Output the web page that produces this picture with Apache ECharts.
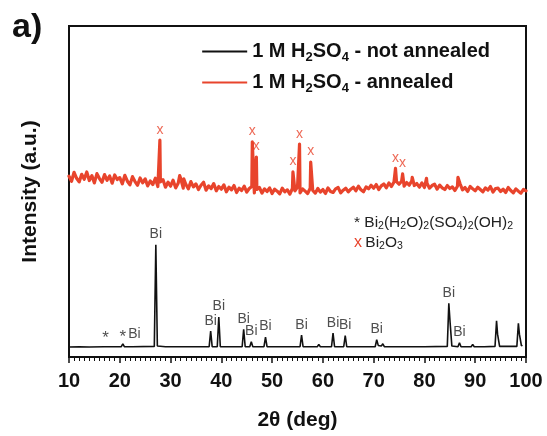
<!DOCTYPE html>
<html>
<head>
<meta charset="utf-8">
<script src="https://cdn.jsdelivr.net/npm/echarts@6/dist/echarts.min.js"></script>
<style>
  html, body { margin: 0; padding: 0; background: #fff; }
  #main { width: 547px; height: 436px; }
</style>
</head>
<body>
<div id="main"></div>
<script>
// black trace (not annealed): 2theta / intensity points
const blackX = [10, 12, 14, 16.9, 17.2, 17.5, 20.3, 20.6, 20.9, 22.1, 22.3, 22.5, 26.8, 27.1, 27.4, 29, 33,
  37.6, 37.9, 38.2, 39.2, 39.5, 39.8, 44.1, 44.4, 44.7, 45.6, 45.9, 46.2, 48.4, 48.7, 49.0,
  55.5, 55.8, 56.1, 58.9, 59.2, 59.5, 61.7, 62.0, 62.3, 64.1, 64.4, 64.7, 67.1, 67.4, 67.7,
  70.3, 70.6, 70.9, 71.5, 71.8, 72.1, 73.4, 73.7, 74.0, 75.0, 75.3, 75.6, 80, 84.5, 84.8, 85.05, 85.15, 85.4,
  86.6, 86.9, 87.2, 89.2, 89.5, 89.8, 91.2, 91.5, 91.8, 93.9, 94.2, 94.4, 94.55, 94.8,
  97.0, 97.3, 97.6, 98.2, 98.5, 98.7, 98.85, 99.1, 99.3]
const blackY = [3.0, 3.1, 3.0, 3.1, 3.7, 3.1, 3.1, 4.0, 3.1, 3.1, 3.6, 3.1, 3.2, 33.9, 3.3, 3.1, 3.1,
  3.1, 7.8, 3.1, 3.1, 12.1, 3.1, 3.1, 8.4, 3.1, 3.1, 4.6, 3.1, 3.1, 6.0, 3.1,
  3.1, 6.6, 3.1, 3.1, 3.8, 3.1, 3.1, 7.2, 3.1, 3.1, 6.5, 3.1, 3.1, 3.6, 3.1,
  3.1, 5.2, 3.5, 3.3, 4.0, 3.1, 3.1, 3.6, 3.1, 3.1, 3.6, 3.1, 3.1, 3.2, 16.2, 10.5, 10.0, 3.3,
  3.1, 4.3, 3.1, 3.1, 3.8, 3.1, 3.1, 3.6, 3.1, 3.2, 10.9, 6.9, 6.5, 3.2,
  3.2, 3.7, 3.2, 3.2, 10.2, 6.9, 6.5, 3.4, 3.6]

// black peak tags
const blackTagPos = [17.2, 20.6, 22.3, 27.1, 37.9, 39.5, 44.4, 45.9, 48.7, 55.8, 62.0, 64.4, 70.6, 84.8, 86.9]
const blackTagText = ['*', '*', 'Bi', 'Bi', 'Bi', 'Bi', 'Bi', 'Bi', 'Bi', 'Bi', 'Bi', 'Bi', 'Bi', 'Bi', 'Bi']

// red trace (annealed): noisy background every 0.5 deg from 10 to 100
const redBase = [
  54.6, 53.1, 55.8, 54.0, 52.9, 55.2, 53.7, 55.9, 53.3, 54.8,
  52.6, 55.4, 53.9, 52.8, 55.1, 53.4, 54.7, 52.5, 55.0, 53.6,
  54.2, 52.3, 54.9, 53.1, 52.0, 54.5, 53.0, 51.9, 54.1, 52.6,
  53.8, 51.7, 53.2, 52.1, 54.0, 51.5, 52.9, 53.6, 51.3, 52.8,
  51.6, 53.4, 51.1, 52.5, 53.9, 51.0, 52.2, 50.8, 53.0, 51.4,
  52.3, 50.6, 51.9, 52.8, 50.4, 51.7, 50.9, 52.4, 50.2, 51.5,
  50.7, 52.0, 49.9, 51.3, 50.5, 51.8, 49.7, 51.0, 50.3, 51.6,
  49.8, 50.9, 51.5, 49.6, 50.6, 51.2, 49.5, 50.8, 50.0, 51.1,
  49.4, 50.7, 50.1, 49.3, 51.0, 49.9, 50.5, 49.2, 50.9, 50.2,
  51.3, 49.6, 50.8, 50.1, 49.4, 51.0, 50.3, 49.5, 50.9, 49.8,
  50.6, 49.4, 51.1, 50.0, 49.7, 50.8, 51.2, 49.6, 50.4, 51.0,
  49.9, 50.7, 51.3, 50.2, 51.6, 50.5, 49.9, 51.4, 50.8, 51.9,
  51.0, 52.1, 50.6, 51.7, 52.3, 51.1, 52.6, 51.5, 52.9, 53.0,
  52.2, 53.1, 51.6, 52.7, 51.9, 53.2, 51.8, 52.4, 51.3, 52.6,
  51.2, 52.5, 51.0, 51.8, 52.2, 50.7, 51.9, 51.1, 50.6, 51.8,
  50.9, 51.4, 50.3, 51.6, 52.4, 50.5, 51.2, 50.0, 51.5, 50.8,
  50.2, 51.3, 50.6, 49.9, 51.1, 50.4, 51.5, 49.8, 50.9, 51.0,
  50.0, 50.7, 49.7, 51.2, 50.3, 49.6, 50.8, 50.1, 49.5, 50.6,
  50.2]
// Bi2O3 peaks (tagged with x)
const redPeakPos = [27.9, 46.1, 46.9, 54.1, 55.4, 57.6, 74.3, 75.7]
const redPeakTop = [65.5, 65.0, 60.4, 55.9, 64.3, 58.9, 57.0, 55.3]
// small untagged spikes
const redMinorPos = [31.8, 32.6, 77.6, 80.4, 86.6]
const redMinorTop = [54.8, 53.8, 54.3, 54.0, 54.3]

const font = 'Liberation Sans, Arial, sans-serif'
const red = '#e8442c'

const blackData = blackX.map((x, i) => [x, blackY[i]])
const redData = redBase.map((v, i) => [10 + i * 0.5, v])
  .concat(redPeakPos.map((p, i) => [p, redPeakTop[i]]))
  .concat(redMinorPos.map((p, i) => [p, redMinorTop[i]]))
  .sort((a, b) => a[0] - b[0])
const blackTags = blackTagPos.map((p, i) => {
  const star = blackTagText[i] === '*'
  return {
    value: [p, blackY[blackX.indexOf(p)]],
    label: {
      formatter: blackTagText[i],
      fontSize: star ? 17 : 14,
      offset: star ? [0, 6] : (p === 22.3 ? [3, 0] : [0, 0])
    }
  }
})
const redTags = redPeakPos.map((p, i) => [p, redPeakTop[i]])

const legendText = {
  'not annealed': '{b|1 M H}{s|2}{b|SO}{s|4}{b| - not annealed}',
  'annealed': '{b|1 M H}{s|2}{b|SO}{s|4}{b| - annealed}'
}

const chart = echarts.init(document.getElementById('main'))

let option = {
  animation: false,
  backgroundColor: '#fff',
  title: {
    text: 'a)',
    left: 7,
    top: 6,
    textStyle: {fontFamily: font, fontSize: 34, fontWeight: 'bold', color: '#111'}
  },
  legend: {
    orient: 'vertical',
    right: 52,
    top: 34,
    icon: 'rect',
    itemWidth: 45,
    itemHeight: 2,
    itemGap: 6,
    data: ['not annealed', 'annealed'],
    formatter: (name) => legendText[name],
    textStyle: {
      rich: {
        b: {fontFamily: font, fontSize: 20, fontWeight: 'bold', color: '#111', lineHeight: 23},
        s: {fontFamily: font, fontSize: 13, fontWeight: 'bold', color: '#111', lineHeight: 23, padding: [12, 0, 0, 0]}
      }
    }
  },
  graphic: [
    {
      type: 'text',
      left: 354,
      top: 213,
      style: {
        text: '{n|* Bi}{s|2}{n|(H}{s|2}{n|O)}{s|2}{n|(SO}{s|4}{n|)}{s|2}{n|(OH)}{s|2}',
        rich: {
          n: {fontFamily: font, fontSize: 15.5, fill: '#222', lineHeight: 18},
          s: {fontFamily: font, fontSize: 10.5, fill: '#222', lineHeight: 18, padding: [8, 0, 0, 0]}
        }
      }
    },
    {
      type: 'text',
      left: 354,
      top: 233,
      style: {
        text: '{r|x} {n|Bi}{s|2}{n|O}{s|3}',
        rich: {
          r: {fontFamily: font, fontSize: 16, fill: red, lineHeight: 18},
          n: {fontFamily: font, fontSize: 15.5, fill: '#222', lineHeight: 18},
          s: {fontFamily: font, fontSize: 10.5, fill: '#222', lineHeight: 18, padding: [8, 0, 0, 0]}
        }
      }
    }
  ],
  grid: {
    left: 69,
    right: 21,
    top: 26,
    bottom: 77,
    show: true,
    borderColor: '#111',
    borderWidth: 2
  },
  xAxis: {
    type: 'value',
    min: 10,
    max: 100,
    interval: 10,
    name: '2θ (deg)',
    nameLocation: 'middle',
    nameGap: 53,
    nameTextStyle: {fontFamily: font, fontSize: 21, fontWeight: 'bold', color: '#111'},
    axisLine: {lineStyle: {color: '#111', width: 2}},
    axisTick: {inside: false, length: 6, lineStyle: {color: '#111', width: 1.5}},
    minorTick: {show: true, splitNumber: 10, length: 4, lineStyle: {color: '#111', width: 1}},
    axisLabel: {fontFamily: font, fontSize: 20, fontWeight: 'bold', color: '#111', margin: 14},
    splitLine: {show: false}
  },
  yAxis: {
    type: 'value',
    min: 0,
    max: 100,
    name: 'Intensity (a.u.)',
    nameLocation: 'middle',
    nameGap: 28,
    nameTextStyle: {fontFamily: font, fontSize: 21, fontWeight: 'bold', color: '#111'},
    axisLine: {show: true, lineStyle: {color: '#111', width: 2}},
    axisTick: {show: false},
    axisLabel: {show: false},
    splitLine: {show: false}
  },
  series: [
    {
      name: 'not annealed',
      type: 'line',
      data: blackData,
      symbol: 'none',
      color: '#111',
      lineStyle: {color: '#111', width: 1.6}
    },
    {
      name: 'annealed',
      type: 'line',
      data: redData,
      symbol: 'none',
      color: red,
      lineStyle: {color: red, width: 3.2, join: 'round', cap: 'round'}
    },
    {
      type: 'scatter',
      data: blackTags,
      symbolSize: 1,
      silent: true,
      itemStyle: {color: 'transparent'},
      label: {show: true, position: 'top', distance: 3, fontFamily: font, fontSize: 14, color: '#222'}
    },
    {
      type: 'scatter',
      data: redTags,
      symbolSize: 1,
      silent: true,
      itemStyle: {color: 'transparent'},
      label: {show: true, position: 'top', distance: 3, formatter: 'x', fontFamily: font, fontSize: 14, color: red}
    }
  ]
}

option && chart.setOption(option)
</script>
</body>
</html>
